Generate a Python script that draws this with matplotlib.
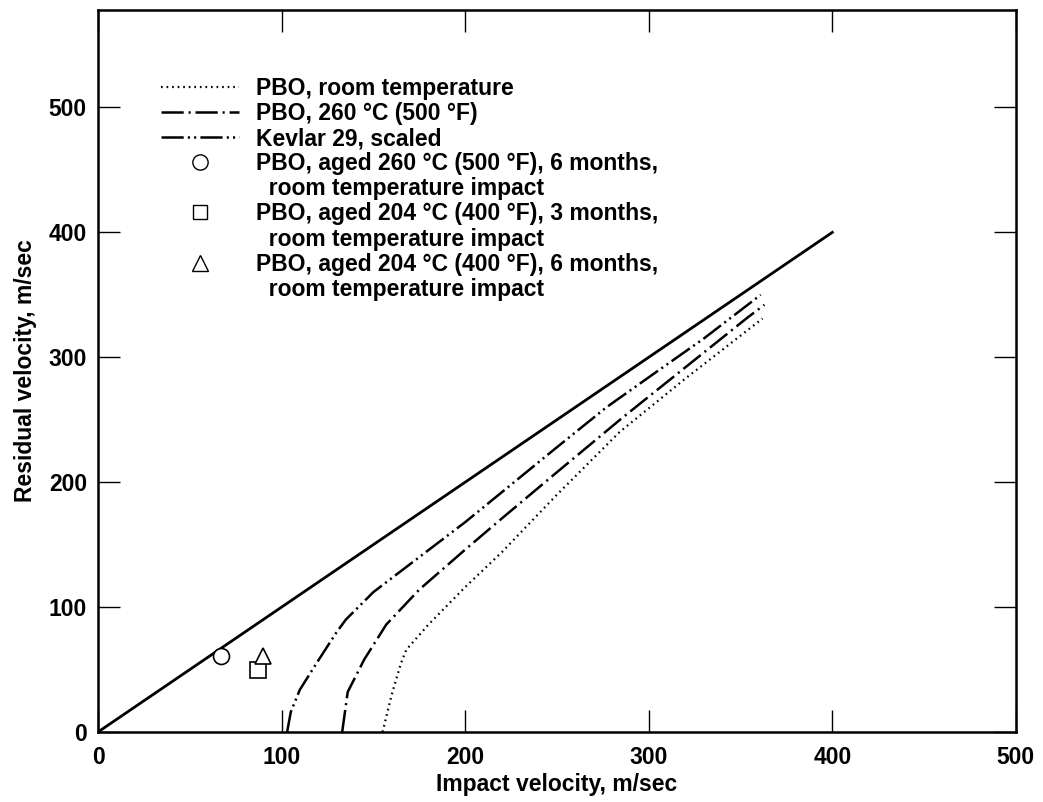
import numpy as np
import matplotlib
matplotlib.use('Agg')
import matplotlib.pyplot as plt
from matplotlib.lines import Line2D

# --- data ---
solid_x = [0, 400]
solid_y = [0, 400]

kevlar_x = [103, 105, 110, 119, 130, 135, 150, 175, 200, 220, 250, 277, 301, 330, 361]
kevlar_y = [0, 16, 34, 55, 80, 90, 112, 140, 168, 192, 228, 260, 285, 315, 350]

pbo260_x = [133, 136, 145, 157, 175, 200, 220, 250, 286, 320, 354, 363]
pbo260_y = [0, 32, 58, 86, 114, 146, 171, 208, 252, 292, 332, 342]

pborm_x = [155, 160, 165, 168, 180, 200, 220, 250, 284, 320, 362]
pborm_y = [0, 30, 55, 66, 86, 116, 144, 190, 240, 283, 331]

aged260_6mo = (67, 61)
aged204_3mo = (87, 50)
aged204_6mo = (90, 61)

labels = [
    'PBO, room temperature',
    'PBO, 260 \u00b0C (500 \u00b0F)',
    'Kevlar 29, scaled',
    'PBO, aged 260 \u00b0C (500 \u00b0F), 6 months,',
    '  room temperature impact',
    'PBO, aged 204 \u00b0C (400 \u00b0F), 3 months,',
    '  room temperature impact',
    'PBO, aged 204 \u00b0C (400 \u00b0F), 6 months,',
    '  room temperature impact',
]

plt.rcParams['font.family'] = ['Liberation Sans', 'DejaVu Sans']
plt.rcParams['font.weight'] = 'bold'
plt.rcParams['lines.scale_dashes'] = False

fig = plt.figure(figsize=(10.43, 8.02), dpi=100)
ax = fig.add_axes([0.094, 0.0873, 0.880, 0.9002])

dot_style = (0, (1.2, 2.8))
dashdot_style = (0, (16, 3.5, 1.5, 3.5))
dashdotdot_style = (0, (16, 3, 1.5, 3, 1.5, 3))

ax.plot(solid_x, solid_y, color='black', lw=2.0)
ax.plot(pborm_x, pborm_y, color='black', lw=1.6, linestyle=dot_style)
ax.plot(pbo260_x, pbo260_y, color='black', lw=1.8, linestyle=dashdot_style)
ax.plot(kevlar_x, kevlar_y, color='black', lw=1.8, linestyle=dashdotdot_style)

ax.plot(*aged260_6mo, marker='o', ms=11.5, mfc='white', mec='black', mew=1.2, ls='none')
ax.plot(*aged204_3mo, marker='s', ms=11, mfc='white', mec='black', mew=1.2, ls='none')
ax.plot(*aged204_6mo, marker='^', ms=12, mfc='white', mec='black', mew=1.2, ls='none')

ax.set_xlim(0, 500)
ax.set_ylim(0, 578)
ax.set_xticks([0, 100, 200, 300, 400, 500])
ax.set_yticks([0, 100, 200, 300, 400, 500])
ax.tick_params(direction='in', length=16, width=1.0, top=True, right=True,
               labelsize=16.5)
ax.tick_params(axis='x', pad=10)
ax.tick_params(axis='y', pad=8)
for sp in ax.spines.values():
    sp.set_linewidth(1.8)

ax.set_xlabel('Impact velocity, m/sec', fontsize=16.5, fontweight='bold', labelpad=3)
ax.set_ylabel('Residual velocity, m/sec', fontsize=16.5, fontweight='bold', labelpad=8)

blank = Line2D([], [], ls='none')
handles = [
    Line2D([], [], color='black', lw=1.6, linestyle=dot_style),
    Line2D([], [], color='black', lw=1.8, linestyle=dashdot_style),
    Line2D([], [], color='black', lw=1.8, linestyle=dashdotdot_style),
    Line2D([], [], marker='o', ms=11, mfc='white', mec='black', mew=1.0, ls='none'),
    blank,
    Line2D([], [], marker='s', ms=10, mfc='white', mec='black', mew=1.0, ls='none'),
    blank,
    Line2D([], [], marker='^', ms=11, mfc='white', mec='black', mew=1.0, ls='none'),
    blank,
]
leg = ax.legend(handles, labels, loc='upper left', bbox_to_anchor=(0.069, 0.907),
                frameon=False, fontsize=16.5, handlelength=3.4, handletextpad=0.75,
                labelspacing=0.09, borderaxespad=0, borderpad=0)

fig.savefig('out.png', dpi=100)
